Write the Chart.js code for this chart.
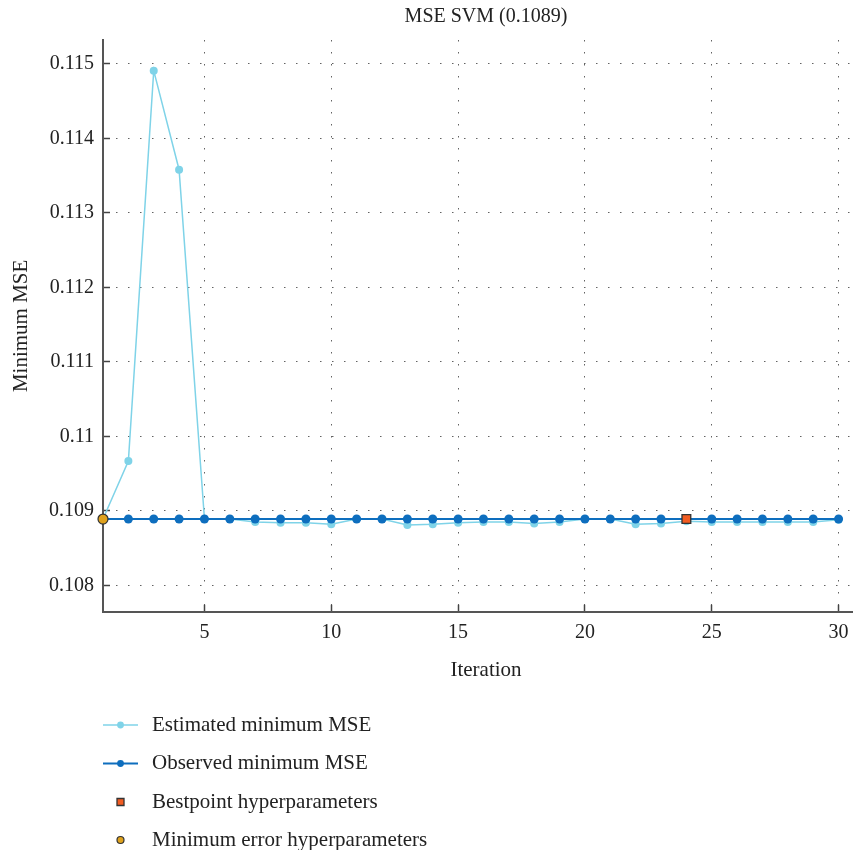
<!DOCTYPE html>
<html>
<head>
<meta charset="utf-8">
<script src="https://cdn.jsdelivr.net/npm/chart.js@4/dist/chart.umd.min.js"></script>
<style>
html, body { margin: 0; padding: 0; background: #ffffff; overflow: hidden; }
#wrap { width: 880px; height: 850px; }
</style>
</head>
<body>
<div id="wrap"><canvas id="c" width="880" height="850"></canvas></div>
<script>
// ---- data ----
const iterations = [1,2,3,4,5,6,7,8,9,10,11,12,13,14,15,16,17,18,19,20,21,22,23,24,25,26,27,28,29,30];
const estimatedMSE = [0.10889,0.10967,0.11491,0.11358,0.10889,0.10889,0.10885,0.10884,0.10884,0.10882,
                      0.10889,0.10889,0.10881,0.10882,0.10884,0.10885,0.10885,0.10883,0.10885,0.10889,
                      0.10889,0.10882,0.10883,0.10886,0.10885,0.10885,0.10885,0.10885,0.10885,0.10888];
const observedMSE = [0.10889,0.10889,0.10889,0.10889,0.10889,0.10889,0.10889,0.10889,0.10889,0.10889,
                     0.10889,0.10889,0.10889,0.10889,0.10889,0.10889,0.10889,0.10889,0.10889,0.10889,
                     0.10889,0.10889,0.10889,0.10889,0.10889,0.10889,0.10889,0.10889,0.10889,0.10889];
const bestpointIteration = [24];
const bestpointMSE = [0.10889];
const minErrorIteration = [1];
const minErrorMSE = [0.10889];
const xTickValues = [5, 10, 15, 20, 25, 30];
const yTickValues = [0.108, 0.109, 0.110, 0.111, 0.112, 0.113, 0.114, 0.115];
const seriesLabels = ['Estimated minimum MSE', 'Observed minimum MSE', 'Bestpoint hyperparameters', 'Minimum error hyperparameters'];
const chartTitle = 'MSE SVM (0.1089)';
const xAxisTitle = 'Iteration';
const yAxisTitle = 'Minimum MSE';

// ---- helpers ----
const zip = (xs, ys) => xs.map((x, i) => ({ x: x, y: ys[i] }));
const SERIF = "'Liberation Serif', 'DejaVu Serif', serif";
const TEXT = '#222222';

Chart.defaults.font.family = SERIF;

const legendPlugin = {
  id: 'stackedLegend',
  afterDraw(chart) {
    const ctx = chart.ctx;
    const rows = [725, 763.5, 802, 840];
    const lineX0 = 103, lineX1 = 138, markX = 120.5, textX = 152;
    ctx.save();
    chart.data.datasets.forEach((ds, i) => {
      const y = rows[i];
      if (ds.showLine !== false) {
        ctx.strokeStyle = ds.borderColor;
        ctx.lineWidth = ds.borderWidth;
        ctx.beginPath();
        ctx.moveTo(lineX0, y);
        ctx.lineTo(lineX1, y);
        ctx.stroke();
      }
      ctx.fillStyle = ds.pointBackgroundColor || ds.backgroundColor;
      ctx.strokeStyle = ds.pointBorderColor || ds.borderColor;
      ctx.lineWidth = ds.pointBorderWidth || 0;
      ctx.beginPath();
      if (ds.pointStyle === 'rect') {
        ctx.rect(markX - 3.5, y - 3.5, 7, 7);
      } else {
        ctx.arc(markX, y, ds.showLine === false ? 3.5 : 3.4, 0, Math.PI * 2);
      }
      ctx.fill();
      if (ds.pointBorderWidth) ctx.stroke();
      ctx.fillStyle = TEXT;
      ctx.font = "21px " + SERIF;
      ctx.textBaseline = 'alphabetic';
      ctx.textAlign = 'left';
      ctx.fillText(ds.label, textX, y + 5.5);
    });
    ctx.restore();
  }
};

new Chart(document.getElementById('c'), {
  type: 'line',
  data: {
    datasets: [
      {
        label: seriesLabels[0],
        data: zip(iterations, estimatedMSE),
        borderColor: '#7fd3e8',
        backgroundColor: '#7fd3e8',
        pointBackgroundColor: '#7fd3e8',
        pointBorderColor: '#7fd3e8',
        pointBorderWidth: 0,
        borderWidth: 1.5,
        pointRadius: 4,
        tension: 0,
        clip: false,
        order: 4
      },
      {
        label: seriesLabels[1],
        data: zip(iterations, observedMSE),
        borderColor: '#0e6ebe',
        backgroundColor: '#0e6ebe',
        pointBackgroundColor: '#0e6ebe',
        pointBorderColor: '#0e6ebe',
        pointBorderWidth: 0,
        borderWidth: 2,
        pointRadius: 4.5,
        tension: 0,
        clip: false,
        order: 3
      },
      {
        label: seriesLabels[2],
        data: zip(bestpointIteration, bestpointMSE),
        showLine: false,
        pointStyle: 'rect',
        pointRadius: 6.2,
        pointBackgroundColor: '#f25c22',
        backgroundColor: '#f25c22',
        pointBorderColor: '#333333',
        borderColor: '#333333',
        pointBorderWidth: 1.3,
        clip: false,
        order: 2
      },
      {
        label: seriesLabels[3],
        data: zip(minErrorIteration, minErrorMSE),
        showLine: false,
        pointStyle: 'circle',
        pointRadius: 5,
        pointBackgroundColor: '#dfa21d',
        backgroundColor: '#dfa21d',
        pointBorderColor: '#333333',
        borderColor: '#333333',
        pointBorderWidth: 1.2,
        clip: false,
        order: 1
      }
    ]
  },
  options: {
    responsive: false,
    animation: false,
    events: [],
    layout: { padding: { top: 0, left: 10.5, right: 11, bottom: 170.4 } },
    plugins: {
      legend: { display: false },
      tooltip: { enabled: false },
      title: {
        display: true,
        text: chartTitle,
        fullSize: false,
        color: TEXT,
        font: { family: SERIF, size: 20, weight: 'normal', lineHeight: 1.2 },
        padding: { top: 5, bottom: 11 }
      }
    },
    scales: {
      x: {
        type: 'linear',
        position: 'bottom',
        min: 1,
        max: 31.2,
        afterBuildTicks: (s) => { s.ticks = xTickValues.map(v => ({ value: v })); },
        ticks: {
          color: TEXT,
          font: { family: SERIF, size: 20, lineHeight: 1.2 },
          padding: 16,
          maxRotation: 0,
          autoSkip: false,
          callback: (v) => String(v)
        },
        grid: {
          color: 'rgba(70,70,70,0.85)',
          lineWidth: 1,
          drawTicks: true,
          tickLength: -7,
          tickColor: '#444444',
          tickWidth: 1.5
        },
        border: { display: true, color: '#555555', width: 2, dash: [1.5, 10.5] },
        title: {
          display: true,
          text: xAxisTitle,
          color: TEXT,
          font: { family: SERIF, size: 21, lineHeight: 0.9 },
          padding: { top: 0, bottom: 0 }
        }
      },
      y: {
        type: 'linear',
        position: 'left',
        min: 0.107646,
        max: 0.115322,
        afterBuildTicks: (s) => { s.ticks = yTickValues.map(v => ({ value: v })); },
        ticks: {
          color: TEXT,
          font: { family: SERIF, size: 20, lineHeight: 1.2 },
          padding: 16,
          autoSkip: false,
          callback: (v) => parseFloat(Number(v).toFixed(3)).toString()
        },
        grid: {
          color: 'rgba(70,70,70,0.85)',
          lineWidth: 1,
          drawTicks: true,
          tickLength: -7,
          tickColor: '#444444',
          tickWidth: 1.5
        },
        border: { display: true, color: '#555555', width: 2, dash: [1.5, 10.5] },
        title: {
          display: true,
          text: yAxisTitle,
          color: TEXT,
          font: { family: SERIF, size: 21, lineHeight: 1.0 },
          padding: { top: 0, bottom: 1.5 }
        }
      }
    }
  },
  plugins: [legendPlugin]
});
</script>
</body>
</html>
